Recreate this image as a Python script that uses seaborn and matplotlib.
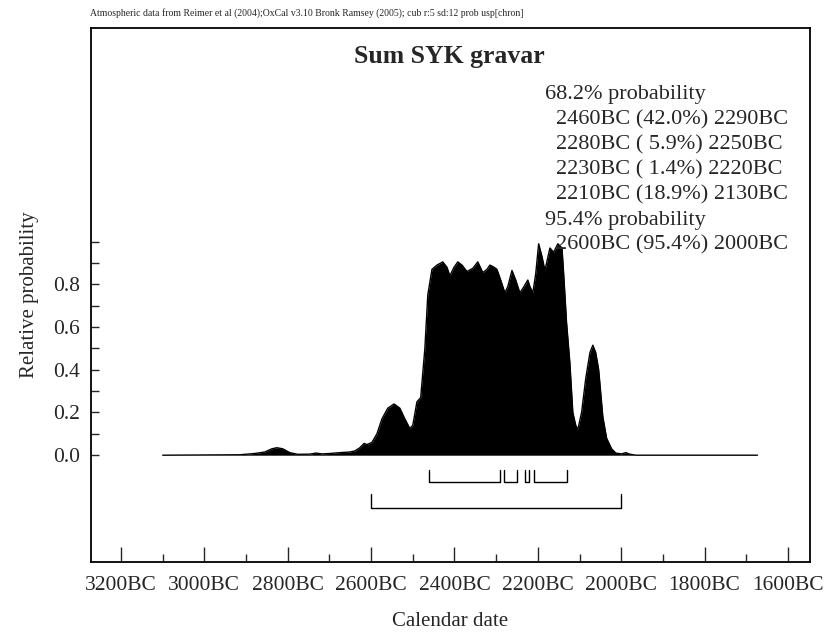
import numpy as np
import pandas as pd
import matplotlib
matplotlib.use("Agg")
import matplotlib.pyplot as plt
import seaborn as sns

# Summed probability distribution (calendar years BC, relative probability)
years_bc = [3100, 2915, 2879, 2855, 2838, 2826, 2812, 2795, 2776, 2747, 2732, 2718,
            2699, 2675, 2651, 2639, 2627, 2617, 2610, 2598, 2586, 2574, 2560, 2545,
            2531, 2519, 2507, 2500, 2490, 2481, 2471, 2464, 2454, 2442, 2428, 2418,
            2411, 2401, 2392, 2382, 2370, 2356, 2344, 2332, 2322, 2315, 2305, 2298,
            2289, 2279, 2272, 2262, 2253, 2243, 2233, 2224, 2219, 2212, 2205, 2198,
            2190, 2183, 2171, 2162, 2152, 2142, 2138, 2131, 2123, 2116, 2109, 2104,
            2095, 2085, 2075, 2068, 2061, 2054, 2044, 2035, 2023, 2013, 1999, 1989,
            1980, 1965, 1673]
probability = [0.0, 0.002, 0.008, 0.015, 0.03, 0.035, 0.03, 0.012, 0.004, 0.005, 0.01, 0.006,
               0.008, 0.012, 0.015, 0.02, 0.035, 0.055, 0.05, 0.06, 0.10, 0.17, 0.22, 0.24,
               0.22, 0.17, 0.125, 0.14, 0.25, 0.27, 0.50, 0.75, 0.87, 0.89, 0.905, 0.88,
               0.84, 0.88, 0.905, 0.89, 0.86, 0.875, 0.905, 0.855, 0.87, 0.89, 0.88, 0.87,
               0.82, 0.76, 0.79, 0.865, 0.82, 0.76, 0.79, 0.82, 0.79, 0.76, 0.85, 0.99,
               0.93, 0.865, 0.97, 0.95, 0.99, 0.97, 0.85, 0.62, 0.43, 0.20, 0.14, 0.12,
               0.20, 0.36, 0.48, 0.515, 0.48, 0.40, 0.18, 0.08, 0.03, 0.01, 0.006, 0.012,
               0.005, 0.0, 0.0]

# Highest probability density ranges (start BC, end BC)
range_68_start = [2460, 2280, 2230, 2210]
range_68_end = [2290, 2250, 2220, 2130]
range_68_pct = [42.0, 5.9, 1.4, 18.9]
range_95_start = [2600]
range_95_end = [2000]
range_95_pct = [95.4]

x_ticks = [3200, 3000, 2800, 2600, 2400, 2200, 2000, 1800, 1600]
y_ticks = [0.0, 0.2, 0.4, 0.6, 0.8]

title = "Sum SYK gravar"
header = ("Atmospheric data from Reimer et al (2004);OxCal v3.10 Bronk Ramsey (2005); "
          "cub r:5 sd:12 prob usp[chron]")

sns.set_style("ticks")
plt.rcParams["font.family"] = ["Liberation Serif", "DejaVu Serif"]

fig = plt.figure(figsize=(8.26, 6.35), dpi=100)
ax = fig.add_axes([91 / 826, 1 - 562 / 635, (810 - 91) / 826, (562 - 28) / 635])

df = pd.DataFrame({"year": years_bc, "prob": probability})
ax.fill_between(df["year"], 0, df["prob"], color="black", lw=0)
sns.lineplot(data=df, x="year", y="prob", color="black", lw=1.0, ax=ax,
             sort=False, estimator=None)

ax.set_xlim(3272, 1547)
ax.set_ylim(-0.5, 2.0)

# Range brackets below the curve
def bracket(start, end, y, h):
    ax.plot([start, start, end, end], [y + h, y, y, y + h], color="black", lw=1.0)

for s, e in zip(range_68_start, range_68_end):
    bracket(s, e, -0.125, 0.055)
for s, e in zip(range_95_start, range_95_end):
    bracket(s, e, -0.248, 0.065)

# Axes ticks
ax.set_xticks(x_ticks)
ax.set_xticklabels([f"{v}BC" for v in x_ticks])
ax.set_xticks(np.arange(3200, 1500, -100), minor=True)
ax.set_yticks(y_ticks + [1.0])
ax.set_yticklabels([f"{v:.1f}" for v in y_ticks] + [""])
ax.set_yticks(np.arange(0.1, 1.0, 0.2), minor=True)
ax.tick_params(axis="x", which="major", direction="in", length=11, width=1.0,
               labelsize=15.5, pad=10, bottom=True, top=False)
ax.tick_params(axis="x", which="minor", direction="in", length=5.5, width=1.0,
               bottom=True, top=False)
ax.tick_params(axis="y", which="both", direction="in", length=6, width=1.0,
               labelsize=15.5, pad=8, left=True, right=False)
for sp in ax.spines.values():
    sp.set_visible(True)
    sp.set_linewidth(1.3)
    sp.set_color("black")

ax.set_xlabel("Calendar date", fontsize=15, labelpad=12)
ax.set_ylabel("Relative probability", fontsize=15, labelpad=10)

ax.text(0.499, 0.946, title, transform=ax.transAxes, ha="center", va="center",
        fontsize=18.5, fontweight="bold")

# Probability range summary
lines = ["68.2% probability"]
for s, p, e in zip(range_68_start, range_68_pct, range_68_end):
    lines.append(f"{s}BC ({p:4.1f}%) {e}BC")
lines.append("95.4% probability")
for s, p, e in zip(range_95_start, range_95_pct, range_95_end):
    lines.append(f"{s}BC ({p:4.1f}%) {e}BC")
y0 = 95
for i, line in enumerate(lines):
    xpx = 545 if "probability" in line else 556
    fig.text(xpx / 826, 1 - (y0 + i * 25) / 635, line, ha="left", va="center",
             fontsize=16)

fig.text(90 / 826, 1 - 13 / 635, header, ha="left", va="center", fontsize=7)

fig.savefig("out.png", dpi=100)
